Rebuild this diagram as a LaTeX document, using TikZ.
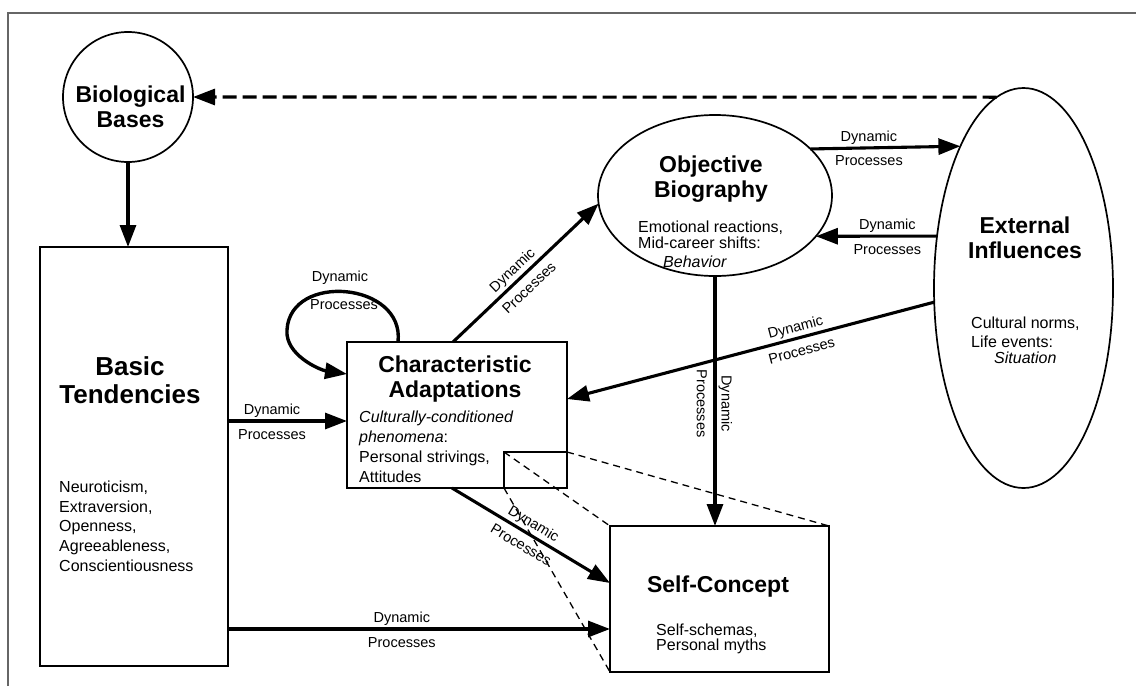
\documentclass[tikz,border=0pt]{standalone}
\usepackage{fontspec}
\setmainfont{Liberation Sans}
\usepackage{tikz}
\usetikzlibrary{shapes.geometric,arrows.meta,positioning,calc}

\newcommand{\ttlfont}{\fontsize{23}{25}\selectfont\bfseries}
\newcommand{\bigttlfont}{\fontsize{26}{28}\selectfont\bfseries}
\newcommand{\txtfont}{\fontsize{16}{19.7}\selectfont}
\newcommand{\dynfont}{\fontsize{14.5}{17}\selectfont}

\tikzset{
  box/.style={draw, line width=1.7pt, inner sep=0pt, outer sep=0pt},
  flow/.style={->, line width=3.1pt},
  dyntop/.style={font=\dynfont, above, inner sep=2pt},
  dynbot/.style={font=\dynfont, below=4.5pt, inner sep=2pt},
  lens/.style={line width=1.3pt, dash pattern=on 7pt off 5pt},
  txt/.style={font=\txtfont, align=left, anchor=north west, inner sep=0pt},
  ttl/.style={font=\ttlfont, align=center, anchor=north, inner sep=0pt},
}

\begin{document}
\begin{tikzpicture}[x=1pt, y=-1pt, >={Triangle[length=22pt,width=16pt]}]
\useasboundingbox (0,0) rectangle (1136,686);
% Frame
\draw[line width=1.5pt, black!60] (8,686) -- (8,13) -- (1136,13);

% Shapes
\node[box, circle, minimum size=130pt] (bio) at (128,97) {};
\node[box, rectangle, minimum width=188pt, minimum height=419pt] (basic) at (134,456.5) {};
\node[box, rectangle, minimum width=220pt, minimum height=146pt] (charad) at (457,415) {};
\node[box, ellipse, minimum width=234pt, minimum height=161pt] (objbio) at (715,195.5) {};
\node[box, ellipse, minimum width=179pt, minimum height=400pt] (extinf) at (1023.5,288) {};
\node[box, rectangle, minimum width=219pt, minimum height=146pt] (selfc) at (719.5,599) {};
\node[box, rectangle, line width=1.4pt, minimum width=63pt, minimum height=36pt] (zoomsq) at (535.5,470) {};

% Texts
\node[ttl] (biottl) at (130.5,85.2) {Biological\\Bases};
\node[ttl, font=\bigttlfont] (basicttl) at (130,356) {Basic\\Tendencies};
\node[txt] (basictxt) at (59,480.5) {Neuroticism,\\Extraversion,\\Openness,\\Agreeableness,\\Conscientiousness};
\node[ttl] (charadttl) at (455,355.2) {Characteristic\\Adaptations};
\node[txt, font=\fontsize{16}{20}\selectfont] (charadtxt) at (359,410.3) {\textit{Culturally-conditioned}\\\textit{phenomena}:\\Personal strivings,\\Attitudes};
\node[ttl] (objbiottl) at (711,155.2) {Objective\\Biography};
\node[txt, font=\fontsize{16}{16}\selectfont] (objbiotxt) at (638,220.5) {Emotional reactions,\\Mid-career shifts:\\[3pt]\hspace*{25pt}\textit{Behavior}};
\node[ttl] (extinfttl) at (1025,216.2) {External\\Influences};
\node[txt, font=\fontsize{16}{16}\selectfont] (extinftxt) at (971,316.5) {Cultural norms,\\[3pt]Life events:\\\hspace*{23pt}\textit{Situation}};
\node[ttl] (selfcttl) at (718,575.2) {Self-Concept};
\node[txt, font=\fontsize{16}{15}\selectfont] (selfctxt) at (656,623.5) {Self-schemas,\\Personal myths};

% Biological bases
\draw[flow, dash pattern=on 14pt off 6pt] (extinf.98) -- (bio.east);
\draw[flow] (bio.south) -- (bio.south |- basic.north);

% Dynamic processes
\coordinate (cain) at ($(charad.west)+(0,6)$);
\coordinate (scin) at ($(selfc.west)+(0,30)$);
\coordinate (scup) at ($(selfc.west)+(0,-16)$);
\coordinate (caright) at ($(charad.east)+(0,-16)$);
\draw[flow] (cain -| basic.east) -- (cain)
  node[dyntop, pos=0.37] (dyn1a) {Dynamic} node[dynbot, pos=0.37] (dyn1b) {Processes};
\draw[flow] (scin -| basic.east) -- (scin)
  node[dyntop, pos=0.455] (dyn2a) {Dynamic} node[dynbot, pos=0.455] (dyn2b) {Processes};
\draw[flow] ($(charad.north)+(-4,0)$) -- (objbio.184.6)
  node[dyntop, sloped, pos=0.46] (dyn3a) {Dynamic} node[dynbot, sloped, pos=0.46] (dyn3b) {Processes};
\draw[flow] ($(charad.south)+(-5,0)$) -- (scup)
  node[dyntop, sloped, pos=0.48] (dyn4a) {Dynamic} node[dynbot, sloped, pos=0.48] (dyn4b) {Processes};
\draw[flow] (objbio.26.6) -- (extinf.114.6)
  node[dyntop, pos=0.39] (dyn5a) {Dynamic} node[dynbot, pos=0.39] (dyn5b) {Processes};
\draw[flow] (extinf.149.5) -- (objbio.-22.5)
  node[dyntop, pos=0.41] (dyn6a) {Dynamic} node[dynbot, pos=0.41] (dyn6b) {Processes};
\draw[flow] (extinf.189.5) -- (caright)
  node[dyntop, sloped, pos=0.37] (dyn7a) {Dynamic} node[dynbot, sloped, pos=0.37] (dyn7b) {Processes};
\draw[flow] (objbio.south) -- (objbio.south |- selfc.north)
  node[dyntop, sloped, pos=0.51] (dyn8a) {Dynamic} node[dynbot, sloped, pos=0.51] (dyn8b) {Processes};

% Self loop
\draw[flow, line width=3.4pt] ($(charad.north west)+(51,0)$) .. controls (405,282) and (290,272) .. (287,330)
  .. controls (285,355) and (320,370) .. ($(charad.north west)+(0,32)$);
\node[font=\dynfont] (loopa) at (340,278) {Dynamic};
\node[font=\dynfont] (loopb) at (344,305) {Processes};

% Zoom lines
\draw[lens] (zoomsq.north west) -- (selfc.north west);
\draw[lens] (zoomsq.south west) -- (selfc.south west);
\draw[lens] (zoomsq.north east) -- (selfc.north east);
\end{tikzpicture}
\end{document}
